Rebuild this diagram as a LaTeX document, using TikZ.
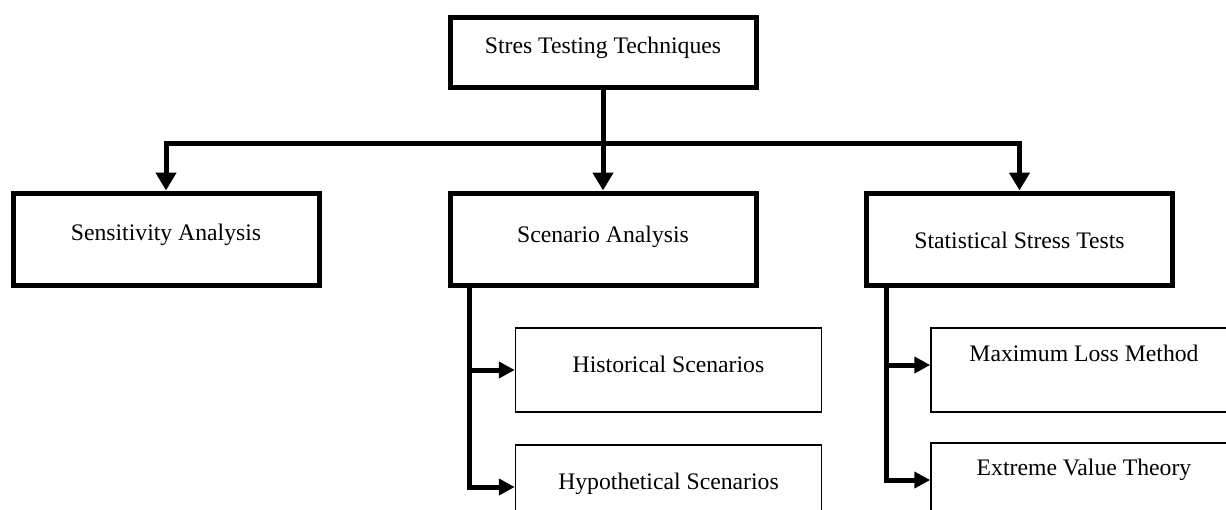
\documentclass[tikz,border=0pt]{standalone}
\usepackage{fontspec}
\setmainfont{Liberation Serif}
\usetikzlibrary{arrows.meta}

\begin{document}
\begin{tikzpicture}[x=1pt, y=1pt,
  every node/.style={font=\fontsize{23.7}{28}\selectfont, align=center, text height=20pt},
  bigbox/.style={draw, line width=5pt, minimum width=306pt, minimum height=92pt},
  headbox/.style={draw, line width=5pt, minimum width=306pt, minimum height=70pt},
  smallbox/.style={draw, line width=1.5pt, minimum width=306pt, minimum height=84pt},
  link/.style={line width=5pt, -{Triangle[length=18pt, width=20pt]}},
  sublink/.style={line width=5pt, -{Triangle[length=16pt, width=16pt]}},
  bar/.style={line width=5pt}]

  % page area
  \path[use as bounding box, clip] (0,0) rectangle (1226,-509);
  \fill[white] (0,0) rectangle (1226,-509);

  % root
  \node[headbox, text depth=18pt] (root) at (603,-52) {Stres Testing Techniques};

  % first level
  \node[bigbox, text depth=18pt] (sens) at (166,-239) {Sensitivity Analysis};
  \node[bigbox, text depth=14pt] (scen) at (603,-239) {Scenario Analysis};
  \node[bigbox, text depth=2pt]  (stat) at (1019.5,-239) {Statistical Stress Tests};

  % second level
  \node[smallbox, text depth=16pt] (hist) at (668.5,-370) {Historical Scenarios};
  \node[smallbox, text depth=16pt] (hyp)  at (668.5,-487) {Hypothetical Scenarios};
  \node[smallbox, text depth=38pt] (mlm)  at (1084,-370) {Maximum Loss Method};
  \node[smallbox, text depth=40pt] (evt)  at (1084,-485) {Extreme Value Theory};

  % distribution bar under the root
  \coordinate (split) at (603,-143);
  \draw[line width=5pt, {Triangle[length=18pt, width=20pt]}-{Triangle[length=18pt, width=20pt]}]
    (sens.north) |- (split) -| (stat.north);
  \draw[link] (root.south) -- (scen.north);

  % scenario branches
  \coordinate (scenleg) at ([xshift=22pt]scen.south west);
  \draw[sublink] (scenleg) |- (hyp.west);
  \draw[sublink] (hist.west -| scenleg) -- (hist.west);

  % statistical branches
  \coordinate (statleg) at ([xshift=22pt]stat.south west);
  \draw[sublink] (statleg) |- ([yshift=5pt]evt.west);
  \draw[sublink] ([yshift=5pt]mlm.west -| statleg) -- ([yshift=5pt]mlm.west);
\end{tikzpicture}
\end{document}
